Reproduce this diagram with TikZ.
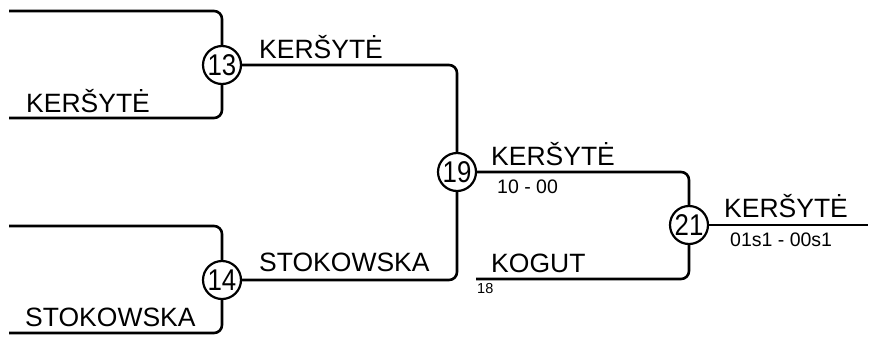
\documentclass[tikz,border=0pt]{standalone}
\usepackage{fontspec}
\setmainfont{Liberation Sans}
\newfontfamily\numfont[FakeStretch=0.86]{Liberation Sans}
\begin{document}
\begin{tikzpicture}[x=1pt,y=-1pt,
  conn/.style={line width=2.6pt, rounded corners=8pt},
  match/.style={circle, draw, line width=2.2pt, minimum size=38pt, inner sep=0pt, font=\numfont\fontsize{30}{30}\selectfont},
  plname/.style={anchor=base west, inner sep=0pt, font=\fontsize{26.5}{27}\selectfont},
  score/.style={anchor=north west, inner sep=0pt, font=\fontsize{19.5}{20}\selectfont},
  seed/.style={anchor=north west, inner sep=0pt, font=\fontsize{14.5}{15}\selectfont}]
\useasboundingbox (0,0) rectangle (874,338);
% match circles
\node[match] (m13) at (222,65) {13};
\node[match] (m14) at (222,280) {14};
\node[match] (m19) at (457,172) {19};
\node[match] (m21) at (689,225) {21};
% free ends
\coordinate (a1) at (9,11);
\coordinate (b1) at (9,118);
\coordinate (c1) at (9,226);
\coordinate (d1) at (9,333);
\coordinate (k1) at (476,279);
\coordinate (fin) at (868,225);
% connectors
\draw[conn] (a1) -| (m13.north);
\draw[conn] (b1) -| (m13.south);
\draw[conn] (c1) -| (m14.north);
\draw[conn] (d1) -| (m14.south);
\draw[conn] (m13.east) -| (m19.north);
\draw[conn] (m14.east) -| (m19.south);
\draw[conn] (m19.east) -| (m21.north);
\draw[conn] (k1) -| (m21.south);
\draw[conn] (m21.east) -- (fin);
% labels
\node[plname] (t1) at (26,112) {KERŠYTĖ};
\node[plname] (t2) at (25,326) {STOKOWSKA};
\node[plname] (t3) at (259,58) {KERŠYTĖ};
\node[plname] (t4) at (259,271) {STOKOWSKA};
\node[plname] (t5) at (491,165) {KERŠYTĖ};
\node[score] (s5) at (497,180) {10 - 00};
\node[plname] (t6) at (491,272) {KOGUT};
\node[seed] (s6) at (477,283) {18};
\node[plname] (t7) at (724,217) {KERŠYTĖ};
\node[score] (s7) at (730,233) {01s1 - 00s1};
\end{tikzpicture}
\end{document}
